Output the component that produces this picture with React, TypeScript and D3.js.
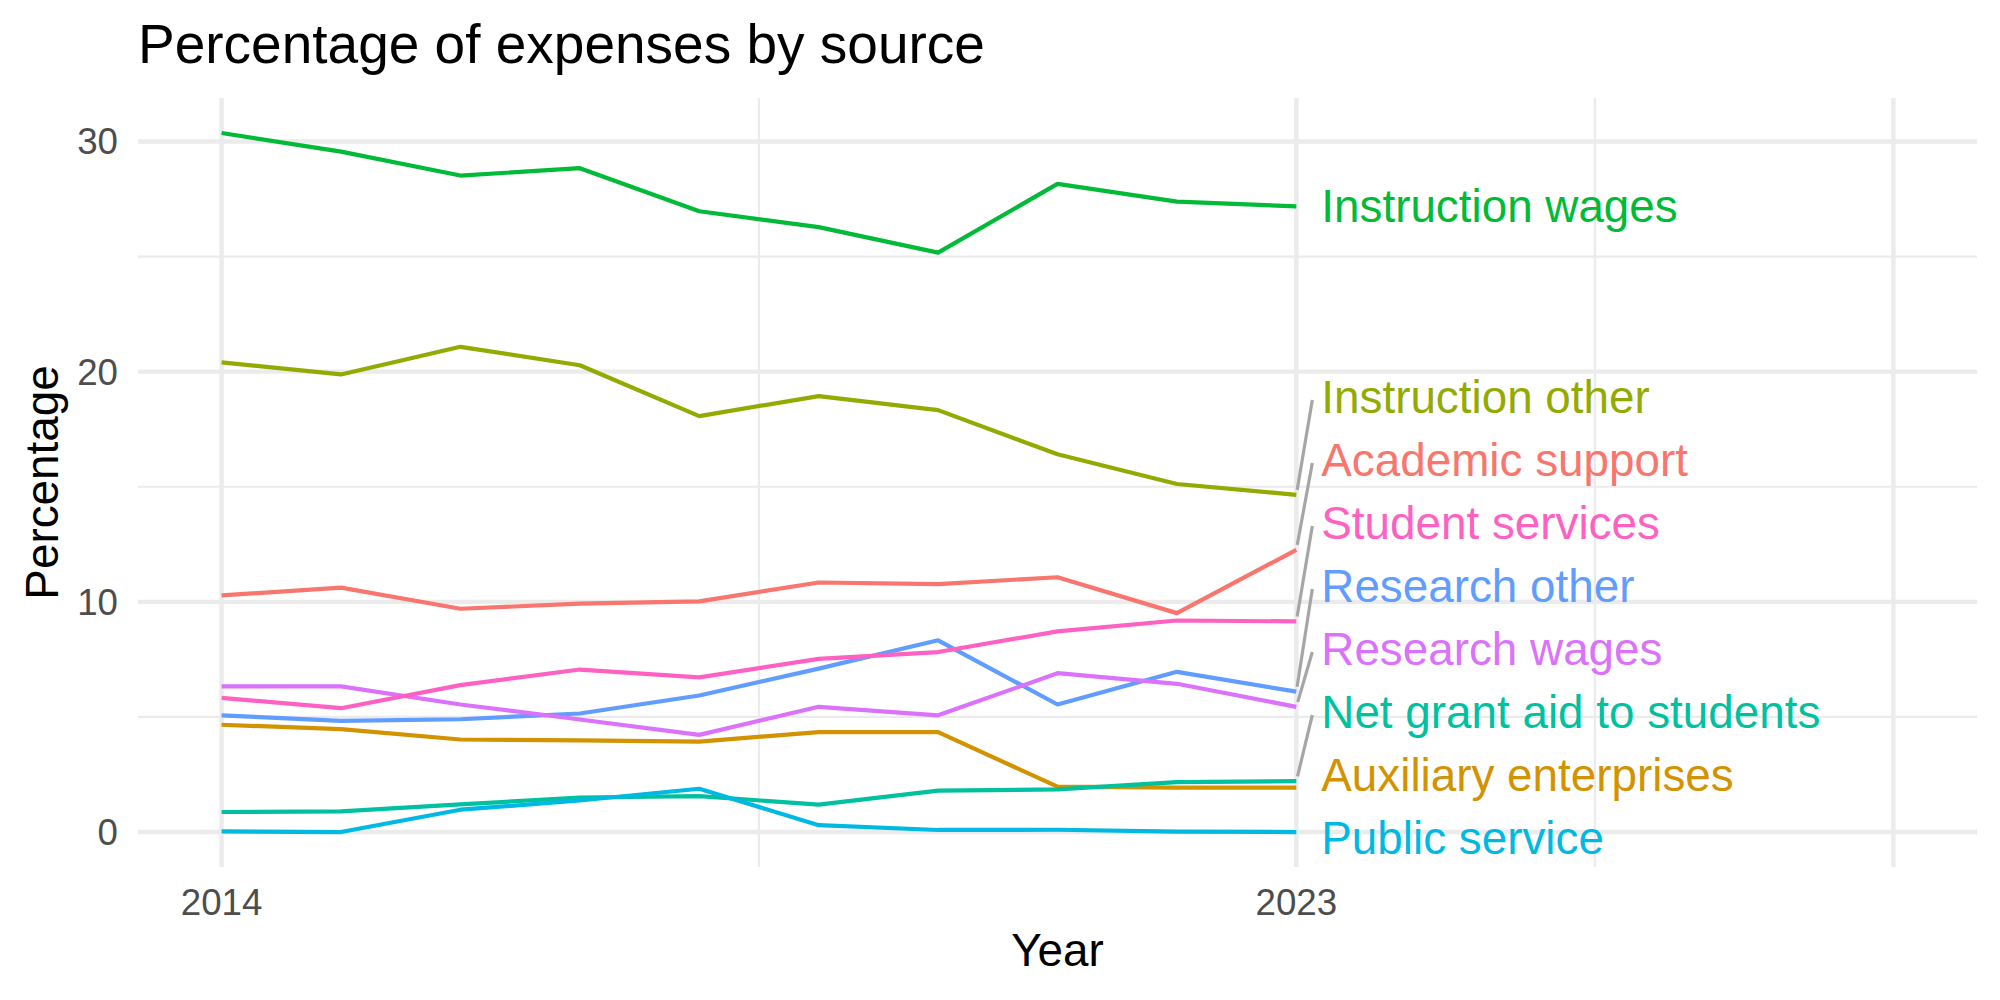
import React from 'react'
import * as d3 from 'd3'

const years = [2014, 2015, 2016, 2017, 2018, 2019, 2020, 2021, 2022, 2023]

const instructionWages = [30.37, 29.56, 28.52, 28.84, 26.97, 26.28, 25.17, 28.16, 27.39, 27.18]
const instructionOther = [20.40, 19.88, 21.08, 20.28, 18.07, 18.94, 18.33, 16.41, 15.12, 14.65]
const academicSupport = [10.28, 10.62, 9.70, 9.92, 10.02, 10.84, 10.77, 11.07, 9.51, 12.26]
const studentServices = [5.83, 5.38, 6.38, 7.06, 6.72, 7.52, 7.82, 8.72, 9.19, 9.15]
const researchOther = [5.07, 4.83, 4.90, 5.15, 5.93, 7.10, 8.33, 5.54, 6.96, 6.10]
const researchWages = [6.33, 6.33, 5.54, 4.89, 4.22, 5.44, 5.07, 6.90, 6.44, 5.44]
const auxiliaryEnterprises = [4.66, 4.47, 4.02, 3.98, 3.93, 4.34, 4.34, 1.97, 1.93, 1.93]
const netGrantAid = [0.87, 0.90, 1.20, 1.50, 1.56, 1.19, 1.80, 1.85, 2.17, 2.21]
const publicService = [0.03, 0.00, 0.97, 1.37, 1.88, 0.30, 0.09, 0.10, 0.02, 0.00]

const sourceNames = [
  'Academic support', 'Auxiliary enterprises', 'Instruction other', 'Instruction wages',
  'Net grant aid to students', 'Public service', 'Research other', 'Research wages', 'Student services',
]
const sourceValues = [
  academicSupport, auxiliaryEnterprises, instructionOther, instructionWages,
  netGrantAid, publicService, researchOther, researchWages, studentServices,
]
// ggplot's default hue palette for 9 groups
const palette = ['#F8766D', '#D39200', '#93AA00', '#00BA38', '#00C19F', '#00B9E3', '#619CFF', '#DB72FB', '#FF61C3']

const yTicks = [0, 10, 20, 30]
const yMinor = [5, 15, 25]
const xTicks = [2014, 2023, 2028]
const xTickLabels = ['2014', '2023', '']
const xMinor = [2018.5, 2025.5]

const W = 2000
const H = 1000
const panel = { left: 138, right: 1977, top: 98, bottom: 867 }
const font = '"Liberation Sans", Arial, Helvetica, sans-serif'
const grid = '#EBEBEB'

// keep labels apart vertically and inside the panel
function spreadLabels(ys: number[], gap: number, lo: number, hi: number) {
  const order = ys.map((y, i) => i).sort((a, b) => ys[a] - ys[b])
  const pos = ys.slice()
  for (let k = 1; k < order.length; k++) {
    pos[order[k]] = Math.max(pos[order[k]], pos[order[k - 1]] + gap)
  }
  const last = order[order.length - 1]
  pos[last] = Math.min(pos[last], hi)
  for (let k = order.length - 2; k >= 0; k--) {
    pos[order[k]] = Math.min(pos[order[k]], pos[order[k + 1]] - gap)
  }
  pos[order[0]] = Math.max(pos[order[0]], lo)
  return pos
}

export default function App() {
  const xLim = [2014, 2028]
  const xPad = (xLim[1] - xLim[0]) * 0.05
  const x = d3.scaleLinear().domain([xLim[0] - xPad, xLim[1] + xPad]).range([panel.left, panel.right])

  const all = sourceValues.flat()
  const yMin = d3.min(all) as number
  const yMax = d3.max(all) as number
  const yPad = (yMax - yMin) * 0.05
  const y = d3.scaleLinear().domain([yMin - yPad, yMax + yPad]).range([panel.bottom, panel.top])

  const line = d3.line<number>().x((d, i) => x(years[i])).y((d) => y(d))

  const lastYear = years[years.length - 1]
  const endYs = sourceValues.map((v) => y(v[v.length - 1]))
  const labelYs = spreadLabels(endYs, 63, panel.top + 29, panel.bottom - 29)
  const labelX = x(lastYear) + 25

  return (
    <svg width={W} height={H} style={{ position: 'absolute', left: 0, top: 0, background: '#fff' }} fontFamily={font}>
      <rect width={W} height={H} fill="#fff" />
      {yMinor.map((t) => (
        <line key={'ym' + t} x1={panel.left} x2={panel.right} y1={y(t)} y2={y(t)} stroke={grid} strokeWidth={2.2} />
      ))}
      {xMinor.map((t) => (
        <line key={'xm' + t} x1={x(t)} x2={x(t)} y1={panel.top} y2={panel.bottom} stroke={grid} strokeWidth={2.2} />
      ))}
      {yTicks.map((t) => (
        <line key={'yg' + t} x1={panel.left} x2={panel.right} y1={y(t)} y2={y(t)} stroke={grid} strokeWidth={4.4} />
      ))}
      {xTicks.map((t) => (
        <line key={'xg' + t} x1={x(t)} x2={x(t)} y1={panel.top} y2={panel.bottom} stroke={grid} strokeWidth={4.4} />
      ))}

      {sourceValues.map((v, i) => (
        <path key={sourceNames[i]} d={line(v) as string} fill="none" stroke={palette[i]} strokeWidth={4.2} strokeLinejoin="round" />
      ))}

      {sourceValues.map((v, i) => {
        const py = endYs[i]
        const ly = labelYs[i]
        if (Math.abs(ly - py) < 30) return null
        const x0 = x(lastYear)
        const x1 = labelX - 9
        const y1 = ly + 3
        const len = Math.hypot(x1 - x0, y1 - py)
        const sx = x0 + ((x1 - x0) / len) * 5
        const sy = py + ((y1 - py) / len) * 5
        return <line key={'seg' + i} x1={sx} y1={sy} x2={x1} y2={y1} stroke="#A6A6A6" strokeWidth={3.2} />
      })}
      {sourceNames.map((n, i) => (
        <text key={'lab' + n} x={labelX} y={labelYs[i]} dy="0.35em" fill={palette[i]} fontSize={45.8}>{n}</text>
      ))}

      {yTicks.map((t) => (
        <text key={'yt' + t} x={118} y={y(t)} dy="0.35em" textAnchor="end" fill="#4D4D4D" fontSize={36.7}>{t}</text>
      ))}
      {xTicks.map((t, i) => (
        <text key={'xt' + t} x={x(t)} y={915} textAnchor="middle" fill="#4D4D4D" fontSize={36.7}>{xTickLabels[i]}</text>
      ))}

      <text x={(panel.left + panel.right) / 2} y={966} textAnchor="middle" fontSize={45.8} fill="#000">Year</text>
      <text transform={`translate(58,${(panel.top + panel.bottom) / 2}) rotate(-90)`} textAnchor="middle" fontSize={45.8} fill="#000">Percentage</text>
      <text x={138} y={63} fontSize={55} fill="#000">Percentage of expenses by source</text>
    </svg>
  )
}
